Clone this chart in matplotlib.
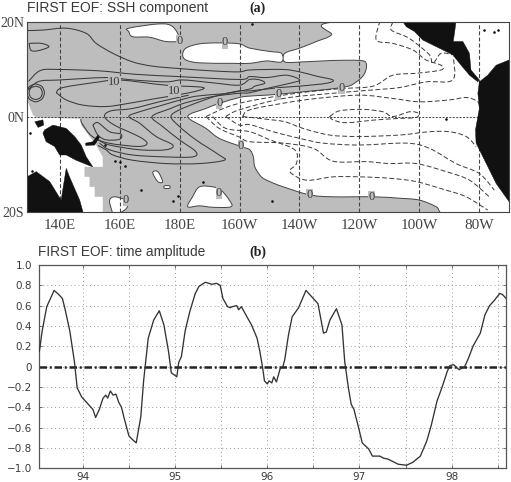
import matplotlib
matplotlib.use("Agg")
import matplotlib.pyplot as plt
from matplotlib.patches import Polygon, PathPatch
from matplotlib.path import Path

# ---------- panel (a): map outlines, (lon E, lat) ----------
white_east = [(182.7,0.1),(188.8,1.8),(193.4,2.9),(199.9,4.1),(203.4,4.4),(212.9,4.8),(234,6.2),(239,7.4),(241.8,9.2),(242.3,11.3),(240.1,11.9),(231.2,11.9),(221.2,11.6),(215.1,11.6),(215.1,13.4),(220.1,14.5),(225.7,15.9),(230.7,17.3),(231.8,20),(291,20.5),(291,-20.5),(269.6,-20.5),(265.7,-18.9),(260.1,-17.5),(253.4,-17.1),(244.6,-16.8),(231.2,-16.8),(223.4,-16.4),(214.6,-14.7),(210.1,-13.6),(207.3,-12.6),(205.1,-10.5),(204.6,-8.4),(203.4,-6.9),(200.4,-6.2),(193.2,-4.5),(188.8,-2.4)]
white_lens_n = [(181,13.1),(182.1,14.5),(186.6,15.4),(193.2,15.6),(199.9,15.4),(203.4,14.5),(210.1,13.8),(214,13.4),(214,11.6),(209,11.8),(203.4,11.3),(197.7,11.3),(186.6,11.4),(182.1,12)]
white_lens_nw = [(163,18.7),(173.2,19.6),(177.7,19),(179.9,16.2),(175.4,15.9),(169.9,16.8),(164.3,16.9),(163,18)]
white_lens_s1 = [(156.6,-17.5),(158.2,-16.8),(162.1,-17.5),(162.7,-18.5),(161.6,-19.6),(158.2,-20.5),(157.1,-19.2)]
white_lens_s2 = [(182.7,-18.9),(184.3,-16.8),(186.6,-14.7),(191,-14.7),(193.8,-15.4),(196.6,-17.5),(197.1,-18.9),(191,-19),(186.6,-18.7)]
white_lens_s3 = [(171,-11.7),(172.7,-11.5),(174.3,-13.6),(172.7,-13.6)]
white_lens_s4 = [(174.9,-14.5),(176.6,-14.5),(176.6,-15),(174.9,-15)]
white_west = [(129,3.6),(131,0.4),(132.1,-0.1),(147.1,-0.4),(147.1,-1.7),(149.9,-4.1),(152.1,-5.9),(154.3,-8.4),(154.3,-10.5),(148.2,-10.5),(148.2,-12.6),(149.9,-12.6),(149.9,-14.7),(151.6,-14.7),(151.6,-16.8),(154.3,-16.8),(154.3,-20),(129,-20)]

land_halmahera = [(131.6,-1),(134.3,-0.6),(134.6,-1.7),(132.7,-2.2)]
land_png = [(134.9,-2.7),(137.7,-1.7),(142.1,-2.4),(144.9,-4.1),(147.1,-5.9),(148.8,-8.4),(151,-10.5),(149.3,-10.1),(145.4,-9.1),(142.1,-8),(139.9,-8),(138.2,-6.2),(135.4,-5.2),(134.3,-3.4)]
land_britain = [(148.6,-5.5),(151,-5.2),(152.7,-3.8),(153.2,-4.3),(151.6,-5.9),(148.6,-6)]
land_australia = [(129,-12.6),(132.1,-11.5),(136.6,-13.6),(140.4,-17.5),(142.1,-10.8),(143.2,-12.6),(146.6,-17.5),(147.7,-20),(129,-20)]
land_central = [(254.6,20),(272.3,20),(271.4,15.9),(274.6,15.9),(276.8,13.4),(277.3,9.9),(280.1,7.8),(279.6,7.4),(276.8,8.8),(274,10.9),(271.2,13.1),(265.7,14.8),(261.2,16.2),(258.4,18),(255.7,19)]
land_south = [(280.1,7.4),(282.9,8.8),(285.7,10.9),(290,12),(290,-17.8),(285.7,-14),(282.4,-9.8),(279,-5.5),(278.8,-2.7),(280.1,1.8),(279.6,5)]
islands_lon = [204.3,281.8,285.1,286.2,155.2,160.1,161.9,167.1,177.9,179.3,187.7,268.8,210.7,130.6,130,143.6,158.5]
islands_lat = [19.6,18.3,18,18.3,-5.9,-9.4,-10.3,-15.4,-17.7,-16.6,-13.6,-0.5,-17.6,-11.4,-3.4,-7.4,-9.2]

# solid contours
s_outer = [(129,18.2),(134.3,18.3),(142.1,18.7),(148.8,17.6),(152.1,15.5),(157.7,13.4),(164.3,11.6),(171,10.7),(179.9,10.2),(191,9.7),(199.9,9.5),(203.4,9.9),(214.6,10),(220.1,9.5),(225.7,8.6),(231.2,7.8),(229,7.1),(220.1,6.5),(213.4,6.2),(203.4,5.5),(199.9,5.5),(193.2,4.6),(186.6,3.2),(179.9,1.5),(177.1,0.1),(179.9,-2),(185.4,-4.8),(193.2,-8),(194.9,-9.1),(186.6,-9.8),(175.4,-9.8),(164.3,-9.1),(157.7,-8),(155.4,-6.9),(152.7,-6)]
s_second = [(129.5,7.5),(133.5,9.8),(140,10),(153.5,9.7),(165,9),(180,8.5),(200,7.9),(203.4,8.5),(209,8.3),(215.7,8.8),(220.1,7.8),(216.8,7.1),(209,6),(203.4,5.1),(199.9,5),(191,4.3),(182,3),(177,1.8),(170.8,0.1),(174.3,-2),(179.9,-4.8),(185.4,-7.3),(184.3,-8.4),(175.4,-8.4),(164.3,-8),(156.6,-6.9),(153.2,-5.5)]
s_third = [(129.3,5.7),(133,7.5),(140,7.8),(155.5,8.3),(164.3,7.8),(175.4,7.4),(181,7.8),(191,7.2),(199.9,6.7),(203.4,7.9),(206.8,7.8),(208.4,7.1),(205.1,6.5),(203.4,5.9),(196,5),(188.8,4.6),(183.2,4.1),(173.2,2.3),(166.6,1.1),(163,0.1),(166.6,-1.3),(172.1,-4.1),(177.7,-5.9),(175.4,-6.9),(166.6,-6.9),(156.6,-5.9),(152.7,-4.8)]
s_lobe = [(138.8,5.1),(141,6.2),(153.2,7.4),(159.9,7.8),(175.4,6.7),(187.9,6.2),(183.2,5.1),(172.1,3.9),(163.2,2.9),(155.4,2.2),(147.7,2.5),(142.1,3.6),(138.8,5.1)]
s_fifth = [(183,4.6),(173.2,3.2),(164.3,1.8),(157.1,1.3),(154.9,0.1),(158.2,-1.7),(166.3,-4.1),(169.1,-5.5),(166.3,-6.2),(156.3,-5.5),(150.8,-4.1),(147.4,-1.4),(147,-0.4)]
s_small = [(151,-1.7),(152.7,-1.2),(156.6,-3.1),(160.4,-3.6),(159.9,-4.7),(155.4,-4.8),(152.7,-3.8),(151,-1.7)]
s_nw = [(129.7,15.5),(133.8,15.5),(136.3,14.8),(133,14),(130.4,14),(129.7,15.5)]
s_ring1 = [(131.9,6.5),(133.5,6.1),(134.1,5.1),(133.5,4.1),(131.9,3.7),(130.3,4.1),(129.7,5.1),(130.3,6.1),(131.9,6.5)]
s_ring2 = [(131.9,7),(134,6.4),(134.8,5.1),(134,3.8),(131.9,3.2),(129.8,3.8),(129,5.1),(129.8,6.4),(131.9,7)]
solid_contours = [s_second,s_third,s_lobe,s_fifth,s_small,s_nw,s_ring1,s_ring2,s_outer]

# dashed contours
d_a = [(188.8,0.1),(195.4,2),(202.1,3.2),(214.6,4.6),(225.7,5.5),(234.6,6),(244.6,6.5),(251.2,8.8),(259,9.2),(267.3,9.9),(267.3,10.9),(262.3,12),(257.9,14.1),(251.2,15.5),(245.7,16.2),(246.8,20)]
d_b = [(195.4,0.1),(199.9,1.5),(214.6,3.9),(231.2,5),(244.6,5.7),(253.4,6.2),(262.3,7.4),(271.2,7.8),(271.4,12.7)]
d_c = [(201,0.1),(203.4,1.5),(214.6,2.9),(225.7,3.9),(240.1,4.6),(251.2,3.9),(260.1,3.2),(270.1,3.6),(275.7,4.1),(279.6,3.2),(280.1,1.8)]
d_d = [(230.1,0.1),(233.4,1.3),(241.2,1.6),(247.9,1.1),(251.2,0.1),(256.8,1.1),(259.6,0.8),(259,-0.1),(253.4,-0.3),(245.7,-0.6),(235.7,-1.2),(231.2,-0.6),(230.1,0.1)]
d_h = [(201,0.1),(208,-0.4),(215.1,-1),(221.2,-2.4),(230.1,-3.8),(240.1,-4.1),(253.4,-3.8),(263.4,-3.1),(270.1,-3.1),(275.7,-4.1),(279,-6.2)]
d_g = [(195.4,0.1),(199.9,-1.7),(203.4,-1.6),(211.2,-3.1),(220.1,-4.5),(227.9,-5.5),(240.1,-5.9),(255.7,-5.5),(263.4,-6.6),(272.3,-9.8),(280.1,-11.9),(285.1,-15.4)]
d_f = [(188.8,0.1),(193.2,-2.4),(199.9,-4.2),(203.4,-5.2),(214.6,-5.5),(224.6,-6.6),(231.2,-9.3),(242.3,-9.4),(250.1,-9.8),(259,-9.8),(269,-11.5),(276.8,-13.3),(283.4,-16.8)]
d_e = [(191,0.1),(195.4,-2.4),(203.4,-3.1),(210.1,-4.8),(218.4,-6.9),(219,-9.8),(216.8,-11.5),(222.3,-13.3),(231.2,-12.6),(240.1,-12.6),(250.1,-12.9),(259,-13.6),(269,-15.4),(275.7,-16.8),(282.9,-19.6)]
d_top = [(251.2,20),(250.7,18.3),(255.7,16.9),(259,15.5),(263.4,13.1),(264.6,11.3),(267.3,13.4),(271.2,13.1)]
dashed_contours = [d_a,d_b,d_c,d_d,d_h,d_g,d_f,d_e,d_top]

contour_labels = [("0",179.9,15.9),("0",195.1,15.7),("0",193.2,2.9),("0",200.4,-6.2),("0",193.1,-15.9),("0",162.1,-17.5),("0",212.9,4.8),("0",234,6.2),("0",223.4,-16.4),("0",244.1,-16.8),("10",158.2,7.4),("10",178.2,5.5)]

lon_ticks = [140,160,180,200,220,240,260,280]
lon_labels = ["140E","160E","180E","160W","140W","120W","100W","80W"]
lat_ticks = [-20,0,20]
lat_labels = ["20S","0N","20N"]

# ---------- panel (b): time amplitude ----------
years = [93.53,93.56,93.61,93.65,93.69,93.74,93.78,93.81,93.86,93.91,93.94,93.99,94.04,94.11,94.14,94.18,94.22,94.25,94.27,94.30,94.33,94.36,94.39,94.42,94.45,94.50,94.53,94.58,94.63,94.66,94.71,94.77,94.83,94.88,94.93,94.96,95.02,95.04,95.07,95.11,95.16,95.22,95.26,95.33,95.40,95.45,95.49,95.52,95.57,95.60,95.62,95.67,95.69,95.72,95.78,95.83,95.89,95.92,
         95.95,95.97,96.00,96.02,96.05,96.07,96.10,96.14,96.17,96.19,96.23,96.27,96.34,96.42,96.48,96.55,96.61,96.64,96.68,96.75,96.81,96.84,96.88,96.91,96.94,96.99,97.03,97.10,97.14,97.22,97.26,97.31,97.42,97.51,97.58,97.66,97.73,97.78,97.84,97.90,97.95,97.98,98.02,98.08,98.14,98.18,98.23,98.31,98.36,98.41,98.46,98.52,98.55,98.59]
amplitude = [.15,.35,.59,.67,.75,.71,.67,.56,.35,.05,-.21,-.30,-.35,-.42,-.50,-.42,-.31,-.28,-.31,-.24,-.28,-.27,-.35,-.40,-.51,-.68,-.71,-.75,-.49,-.14,.28,.46,.55,.41,.15,-.06,-.10,.04,.10,.35,.54,.72,.79,.83,.81,.82,.80,.67,.59,.58,.59,.60,.56,.59,.49,.41,.28,.15,
             -.01,-.14,-.17,-.14,-.16,-.10,-.15,-.02,.00,.07,.31,.49,.58,.75,.69,.62,.33,.34,.46,.57,.41,.05,-.21,-.37,-.42,-.60,-.75,-.81,-.88,-.88,-.90,-.91,-.96,-.97,-.94,-.88,-.73,-.57,-.34,-.19,-.05,.01,.02,-.03,.00,.08,.20,.33,.51,.60,.65,.72,.71,.67]
year_ticks = [94,95,96,97,98]
year_grid = [94,94.5,95,95.5,96,96.5,97,97.5,98,98.5]
amp_ticks = [-1,-.8,-.6,-.4,-.2,0,.2,.4,.6,.8,1]
amp_labels = ["\u22121.0","\u22120.8","\u22120.6","\u22120.4","\u22120.2","0","0.2","0.4","0.6","0.8","1.0"]


def smooth(pts, closed=False):
    """Curved outline through the read points (Catmull-Rom as Bezier segments)."""
    p = list(pts)
    if closed and p[0] == p[-1]:
        p = p[:-1]
    n = len(p)
    get = (lambda i: p[i % n]) if closed else (lambda i: p[min(max(i, 0), n-1)])
    verts, codes = [p[0]], [Path.MOVETO]
    for i in range(n if closed else n-1):
        a, b, c, d = get(i-1), get(i), get(i+1), get(i+2)
        verts += [(b[0]+(c[0]-a[0])/6, b[1]+(c[1]-a[1])/6),
                  (c[0]-(d[0]-b[0])/6, c[1]-(d[1]-b[1])/6), c]
        codes += [Path.CURVE4]*3
    return Path(verts, codes)


W, H = 511, 482
fig = plt.figure(figsize=(W/100, H/100), dpi=100)
GRAY = "#bdbdbd"
INK = "#3a3a3a"
SERIF = "Liberation Serif"
SANS = "Liberation Sans"

# ---- map ----
ax = fig.add_axes([27/W, 1-212/H, 482/W, 190/H])
ax.set_xlim(129, 290); ax.set_ylim(-20, 20)
ax.set_facecolor(GRAY)
for poly in [white_east, white_lens_n, white_lens_nw, white_lens_s1, white_lens_s2, white_lens_s3, white_lens_s4]:
    ax.add_patch(PathPatch(smooth(poly, closed=True), fc="white", ec="#444444", lw=0.7, zorder=1))
ax.add_patch(Polygon(white_west, closed=True, fc="white", ec="none", zorder=1))
for lon in lon_ticks:
    ax.axvline(lon, color="#444444", lw=0.8, ls=(0, (3.5, 2)), zorder=2)
ax.axhline(0, color="#444444", lw=0.7, ls=(0, (2, 1.5)), zorder=2)
for c in solid_contours:
    ax.add_patch(PathPatch(smooth(c), fc="none", ec="#3a3a3a", lw=0.75, zorder=3))
for c in dashed_contours:
    ax.add_patch(PathPatch(smooth(c), fc="none", ec="#3a3a3a", lw=0.7, ls=(0, (5, 2.5)), zorder=3))
for poly in [land_halmahera, land_png, land_britain, land_australia, land_central, land_south]:
    ax.add_patch(Polygon(poly, closed=True, fc="#111111", ec="#111111", lw=0.3, zorder=4))
ax.scatter(islands_lon, islands_lat, s=3.5, color="#111111", lw=0, zorder=4)
for txt, lon, lat in contour_labels:
    ax.text(lon, lat, txt, family=SERIF, fontsize=9, color=INK, ha="center", va="center", zorder=5,
            bbox=dict(fc=GRAY, ec="none", pad=0.1))
ax.set_xticks(lon_ticks, lon_labels, family=SERIF, fontsize=11, color="#444444")
ax.set_yticks(lat_ticks, lat_labels, family=SERIF, fontsize=10, color="#444444")
ax.tick_params(length=0)
ax.tick_params(axis="x", pad=5)
ax.tick_params(axis="y", pad=2)
for s in ax.spines.values():
    s.set_linewidth(0.8); s.set_color("#444444"); s.set_zorder(6)
fig.text(27/W, 1-8/H, "FIRST EOF: SSH component", family=SANS, fontsize=10, color=INK, va="center", ha="left")
fig.text(258/W, 1-8/H, "(a)", family=SERIF, fontsize=10, weight="bold", color="#222222", va="center", ha="center")

# ---- time series ----
bx = fig.add_axes([39/W, 1-468.3/H, 466.7/W, 203.3/H])
bx.set_xlim(93.526, 98.585); bx.set_ylim(-1, 1)
bx.set_xticks(year_ticks, [str(y) for y in year_ticks], family="DejaVu Sans", fontsize=7.5, color=INK)
bx.set_xticks(year_grid, minor=True)
bx.set_yticks(amp_ticks, amp_labels, family="DejaVu Sans", fontsize=7.5, color=INK)
bx.grid(True, which="both", color="#9a9a9a", lw=0.7, ls=(0, (1, 3)))
bx.tick_params(which="both", direction="in", length=2.5, width=0.6, color="#555555", top=True, right=True)
bx.tick_params(axis="y", pad=5)
bx.tick_params(axis="x", pad=3)
bx.axhline(0, color="#222222", lw=1.8, ls=(0, (3, 1.1, 0.8, 1.1)), zorder=2)
bx.plot(years, amplitude, color="#333333", lw=0.95, zorder=3)
for s in bx.spines.values():
    s.set_linewidth(0.9); s.set_color("#555555")
fig.text(38/W, 1-252/H, "FIRST EOF: time amplitude", family=SANS, fontsize=9.8, color=INK, va="center", ha="left")
fig.text(258/W, 1-252/H, "(b)", family=SERIF, fontsize=10, weight="bold", color="#222222", va="center", ha="center")

fig.savefig("out.png", dpi=100)
